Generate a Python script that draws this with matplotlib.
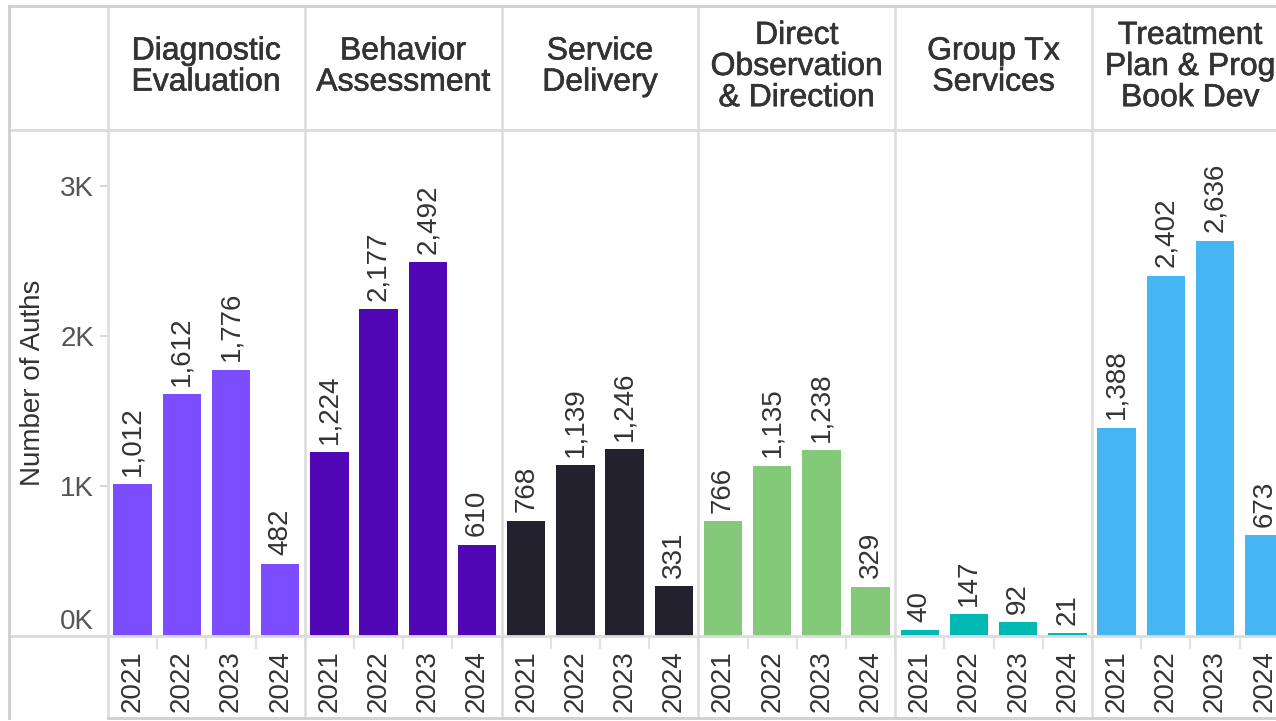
import matplotlib.pyplot as plt
import numpy as np
from matplotlib import patheffects
from matplotlib.lines import Line2D
from matplotlib.transforms import blended_transform_factory, ScaledTranslation

plt.rcParams['font.family'] = ['Liberation Sans', 'DejaVu Sans']

categories = ["Diagnostic\nEvaluation", "Behavior\nAssessment", "Service\nDelivery",
              "Direct\nObservation\n& Direction", "Group Tx\nServices",
              "Treatment\nPlan & Prog\nBook Dev"]
years = ["2021", "2022", "2023", "2024"]
diagnostic = [1012, 1612, 1776, 482]
behavior = [1224, 2177, 2492, 610]
service = [768, 1139, 1246, 331]
direct = [766, 1135, 1238, 329]
group_tx = [40, 147, 92, 21]
treatment = [1388, 2402, 2636, 673]
series = [diagnostic, behavior, service, direct, group_tx, treatment]
colors = ["#7b4dff", "#5107b6", "#24212f", "#84c97a", "#00b9b3", "#45b6f2"]

# pixel layout of the Tableau-like grid
W, H = 1276, 721
panel_w = 196.8
x0, top, base = 108, 130, 636
btop, bbot, bleft = 6, 718, 9
text_c = "#333333"
grid_c = "#dcdcdc"

fig = plt.figure(figsize=(W / 100, H / 100), dpi=100)
ax = fig.add_axes([x0 / W, (H - base) / H, 6 * panel_w / W, (base - top) / H])
n = len(years)
ax.set_xlim(-0.5, n * len(series) - 0.5)
ax.set_ylim(0, (base - top) / 150 * 1000)

for i, (vals, c) in enumerate(zip(series, colors)):
    xs = i * n + np.arange(n)
    ax.bar(xs, vals, width=0.78, color=c)
    for x, v in zip(xs, vals):
        ax.annotate(f"{v:,}", (x, v), xytext=(0, 6), textcoords="offset points",
                    rotation=90, ha="center", va="bottom", fontsize=20, color=text_c)

for s in ax.spines.values():
    s.set_visible(False)

ax.set_xticks(np.arange(n * len(series)), years * len(series), rotation=90)
ax.set_xticks(np.arange(0.5, n * len(series) - 1, 1), minor=True)
ax.tick_params(axis="x", which="major", length=0, pad=10, labelsize=20, labelcolor=text_c)
ax.tick_params(axis="x", which="minor", length=9, width=1.5, color="#e2e2e2")
ax.set_yticks([0, 1000, 2000, 3000], ["0K", "1K", "2K", "3K"])
ax.tick_params(axis="y", length=6, width=1.2, color="#d0d0d0", pad=4,
               labelsize=20, labelcolor="#555555")
lab0 = ax.get_yticklabels()[0]
lab0.set_transform(lab0.get_transform() + ScaledTranslation(0, 0.17, fig.dpi_scale_trans))

trans = blended_transform_factory(ax.transData, ax.transAxes)


def ya(py):
    return (base - py) / (base - top)


# panel dividers
for k in range(len(series) + 1):
    b = k * n - 0.5
    ax.plot([b, b], [ya(btop), ya(bbot)], transform=trans, color=grid_c, lw=1.8,
            clip_on=False)

# header texts (semibold look via a thin stroke)
bold = [patheffects.withStroke(linewidth=0.45, foreground=text_c)]
for i, cat in enumerate(categories):
    ax.text(i * n + (n - 1) / 2, ya(67), cat, transform=trans, ha="center", va="center",
            fontsize=23, color=text_c, linespacing=1.05, path_effects=bold)

# outer frame and row separators
for py, xs in [(btop, bleft), (top, bleft), (base, bleft), (bbot, x0)]:
    fig.add_artist(Line2D([xs / W, 1], [(H - py) / H] * 2, transform=fig.transFigure,
                          color="#cfcfcf" if py in (btop, bbot) else grid_c, lw=2))
fig.add_artist(Line2D([bleft / W] * 2, [(H - btop) / H, (H - bbot) / H],
                      transform=fig.transFigure, color="#cfcfcf", lw=2))

fig.text(33 / W, 1 - 383 / H, "Number of Auths", rotation=90, ha="center", va="center",
         fontsize=20, color=text_c)

fig.savefig("out.png", dpi=100)
